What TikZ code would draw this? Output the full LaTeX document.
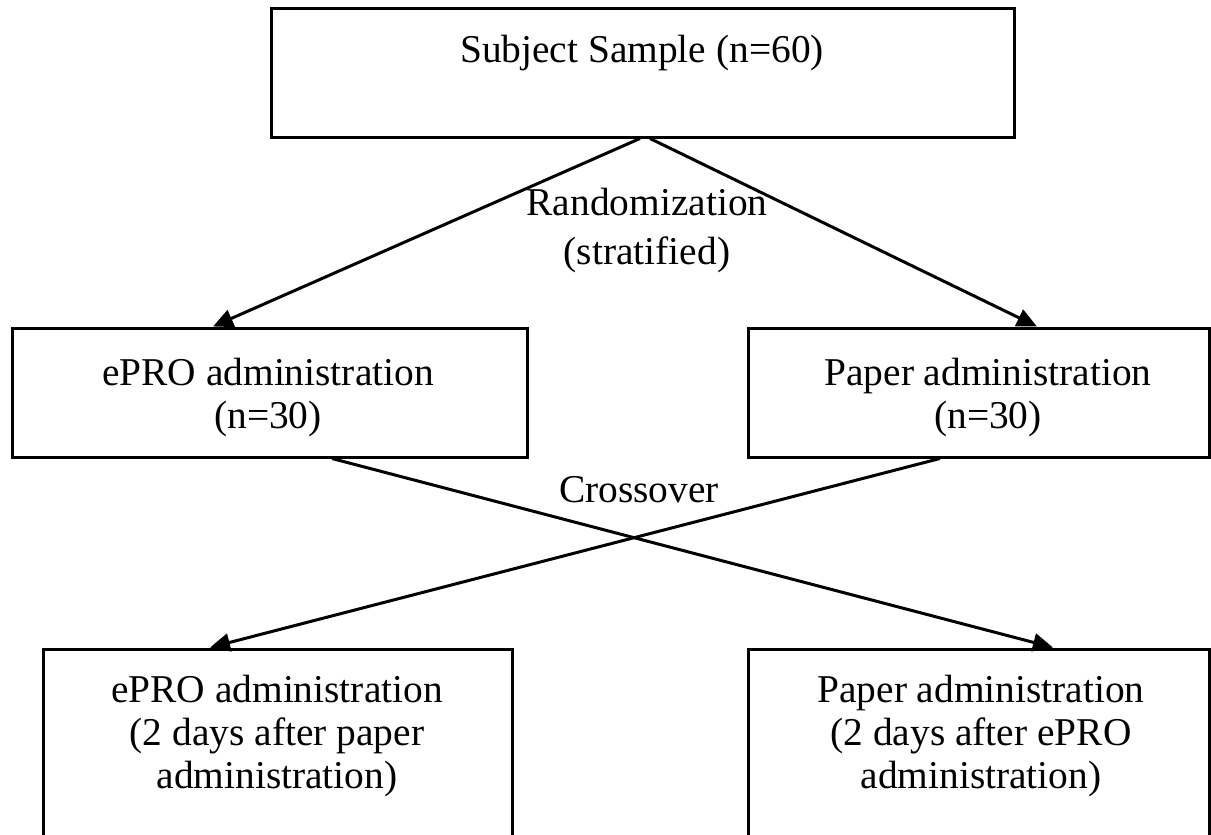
\documentclass[tikz,border=0pt]{standalone}
\usepackage{fontspec}
\setmainfont{Liberation Serif}
\usetikzlibrary{arrows.meta}

\begin{document}
\begin{tikzpicture}[x=0.5pt, y=-0.5pt,
    box/.style={draw, line width=1.5pt, rectangle, inner sep=0pt},
    txt/.style={align=center, inner sep=0pt, font=\fontsize{19.7}{21.5}\selectfont},
    arr/.style={line width=1.5pt, -{Triangle[length=10pt, width=9pt]}}]
  \useasboundingbox (0,0) rectangle (1211,835);
  \node[box, minimum width=371.5pt, minimum height=64.5pt] (sample) at (642.5,72.5) {};
  \node[box, minimum width=257.5pt, minimum height=64.5pt] (epro) at (269.5,392.5) {};
  \node[box, minimum width=230.75pt, minimum height=64.5pt] (paper) at (978.75,392.5) {};
  \node[box, minimum width=234.5pt, minimum height=125.5pt] (eprolate) at (277.5,774.5) {};
  \node[box, minimum width=230.75pt, minimum height=125.5pt] (paperlate) at (978.75,774.5) {};
  \node[txt, anchor=north] (sampletxt) at (642,35) {Subject Sample (n=60)};
  \node[txt, anchor=north] (eprotxt) at (268,358) {ePRO administration\\(n=30)};
  \node[txt, anchor=north] (papertxt) at (988,358) {Paper administration\\(n=30)};
  \node[txt, anchor=north] (eprolatetxt) at (277,675) {ePRO administration\\(2 days after paper\\administration)};
  \node[txt, anchor=north] (paperlatetxt) at (981,675) {Paper administration\\(2 days after ePRO\\administration)};
  \node[txt, anchor=north] (randtxt) at (647,188) {Randomization\\[3pt](stratified)};
  \node[txt, anchor=base] (crosstxt) at (639,502) {Crossover};
  \draw[arr] ([xshift=-1.25pt]sample.south) -- ([xshift=-28.25pt]epro.north);
  \draw[arr] ([xshift=3.75pt]sample.south) -- ([xshift=29.1pt]paper.north);
  \draw[arr] ([xshift=31.25pt]epro.south) -- ([xshift=37.1pt]paperlate.north);
  \draw[arr] ([xshift=-19.4pt]paper.south) -- ([xshift=-33.75pt]eprolate.north);
\end{tikzpicture}
\end{document}
